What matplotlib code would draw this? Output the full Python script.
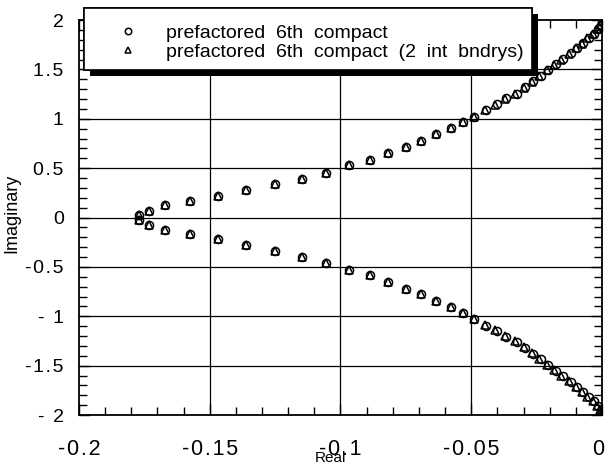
import matplotlib
matplotlib.use("Agg")
import matplotlib.pyplot as plt
import matplotlib.patheffects as pe
import matplotlib.transforms as mtransforms
from matplotlib.patches import Rectangle
import numpy as np

plt.rcParams['font.family'] = ['Liberation Sans', 'DejaVu Sans']

# upper branch of the eigenvalue spectrum (circles)
circ_real_up = [-0.1772, -0.1734, -0.1670, -0.1576, -0.1470, -0.1360, -0.1250, -0.1149,
                -0.1057, -0.0968, -0.0889, -0.0817, -0.0749, -0.0692, -0.0635, -0.0579,
                -0.0531, -0.0490, -0.0444, -0.0402, -0.0368, -0.0326, -0.0294, -0.0262,
                -0.0234, -0.0205, -0.0176, -0.0148, -0.0120, -0.0094, -0.0071, -0.0051,
                -0.0030, -0.0014, -0.0004, 0.0000]
circ_imag_up = [0.025, 0.071, 0.125, 0.169, 0.222, 0.281, 0.338, 0.395,
                0.456, 0.527, 0.581, 0.652, 0.719, 0.773, 0.841, 0.906,
                0.963, 1.023, 1.094, 1.149, 1.206, 1.256, 1.317, 1.378,
                1.436, 1.497, 1.554, 1.605, 1.666, 1.717, 1.767, 1.818,
                1.861, 1.909, 1.950, 1.990]

# lower branch (conjugates)
circ_real_lo = circ_real_up
circ_imag_lo = [-v for v in circ_imag_up]

# prefactored with 2 interior boundaries (triangles): near-identical, small drift near |Im|>1
tri_real_up = [-0.1772, -0.1734, -0.1670, -0.1576, -0.1470, -0.1360, -0.1250, -0.1149,
               -0.1057, -0.0968, -0.0889, -0.0817, -0.0749, -0.0692, -0.0635, -0.0579,
               -0.0531, -0.0490, -0.0448, -0.0408, -0.0372, -0.0332, -0.0300, -0.0268,
               -0.0240, -0.0212, -0.0182, -0.0155, -0.0126, -0.0100, -0.0077, -0.0056,
               -0.0035, -0.0018, -0.0006, 0.0000]
tri_imag_up = [0.025, 0.071, 0.125, 0.169, 0.222, 0.281, 0.338, 0.395,
               0.456, 0.527, 0.581, 0.652, 0.719, 0.773, 0.841, 0.906,
               0.963, 1.023, 1.090, 1.140, 1.200, 1.250, 1.310, 1.370,
               1.430, 1.490, 1.548, 1.600, 1.660, 1.712, 1.762, 1.814,
               1.858, 1.905, 1.948, 1.990]
tri_real_lo = tri_real_up
tri_imag_lo = [-v for v in tri_imag_up]

xticks = [-0.2, -0.15, -0.1, -0.05, 0]
xticklabels = ['-0.2', '-0.15', '-0.1', '-0.05', '0']
yticks = [-2, -1.5, -1, -0.5, 0, 0.5, 1, 1.5, 2]
yticklabels = ['- 2', '-1.5', '- 1', '-0.5', '0', '0.5', '1', '1.5', '2']


def spaced(s, sep='\u200a'):
    # tecplot-style loose letter spacing
    return sep.join(s)


fig = plt.figure(figsize=(6.05, 4.66), dpi=100)
ax = fig.add_axes([0.1306, 0.1094, 0.8644, 0.8476])

circ_real = circ_real_up + circ_real_lo
circ_imag = circ_imag_up + circ_imag_lo
tri_real = tri_real_up + tri_real_lo
tri_imag = tri_imag_up + tri_imag_lo

ax.plot(circ_real, circ_imag, 'o', ms=5.8, mfc='none', mec='black', mew=1.1,
        label='prefactored  6th  compact', zorder=3)
ax.plot(tri_real, tri_imag, '^', ms=5.8, mfc='none', mec='black', mew=1.1,
        label='prefactored  6th  compact  (2  int  bndrys)', zorder=3)

ax.set_xlim(-0.2, 0)
ax.set_ylim(-2, 2)
ax.set_xticks(xticks)
ax.set_xticklabels([spaced(s) for s in xticklabels], fontsize=15.5)
ax.set_yticks(yticks)
ax.set_yticklabels([spaced(s) for s in yticklabels], fontsize=14)
ax.set_xticks(np.arange(-0.2, 0.0001, 0.01), minor=True)
ax.set_yticks(np.arange(-2, 2.0001, 0.1), minor=True)
ax.tick_params(which='both', direction='in', top=True, right=True, color='black')
ax.tick_params(which='major', length=8, width=1)
ax.tick_params(which='minor', length=6, width=1)
ax.tick_params(axis='x', which='major', pad=17)
ax.tick_params(axis='y', which='major', pad=11)

# nudge the last x label inwards so it stays on the canvas
last = ax.get_xticklabels()[-1]
last.set_transform(last.get_transform() + mtransforms.ScaledTranslation(-4 / 100, 0, fig.dpi_scale_trans))

for v in [-0.15, -0.1, -0.05]:
    ax.axvline(v, color='black', lw=0.9, zorder=1)
for v in [-1.5, -1, -0.5, 0, 0.5, 1, 1.5]:
    ax.axhline(v, color='black', lw=0.9, zorder=1)
for s in ax.spines.values():
    s.set_linewidth(1.3)

ax.set_xlabel('Real', fontsize=11)
ax.xaxis.set_label_coords(0.48, -0.09)
ax.set_ylabel('Imaginary', fontsize=13)
ax.yaxis.set_label_coords(-0.113, 0.51)

# legend box with solid drop shadow (drawn separately for exact padding)
box = Rectangle((84 / 605, 1 - 70 / 466), 448 / 605, 62 / 466, transform=fig.transFigure,
                facecolor='white', edgecolor='black', linewidth=1.2, zorder=1)
box.set_path_effects([pe.withSimplePatchShadow(offset=(4, -4), shadow_rgbFace='black', alpha=1.0),
                      pe.Normal()])
fig.patches.append(box)

handles, labels = ax.get_legend_handles_labels()
leg = fig.legend(handles, labels, loc='upper left', bbox_to_anchor=(108.6 / 605, 1 - 24 / 466),
                 borderaxespad=0, borderpad=0, fontsize=14, frameon=False,
                 handlelength=2.0, handletextpad=0.95, labelspacing=0.1, markerscale=0.8)
leg.set_zorder(2)

fig.savefig('out.png', dpi=100)
plt.close(fig)
